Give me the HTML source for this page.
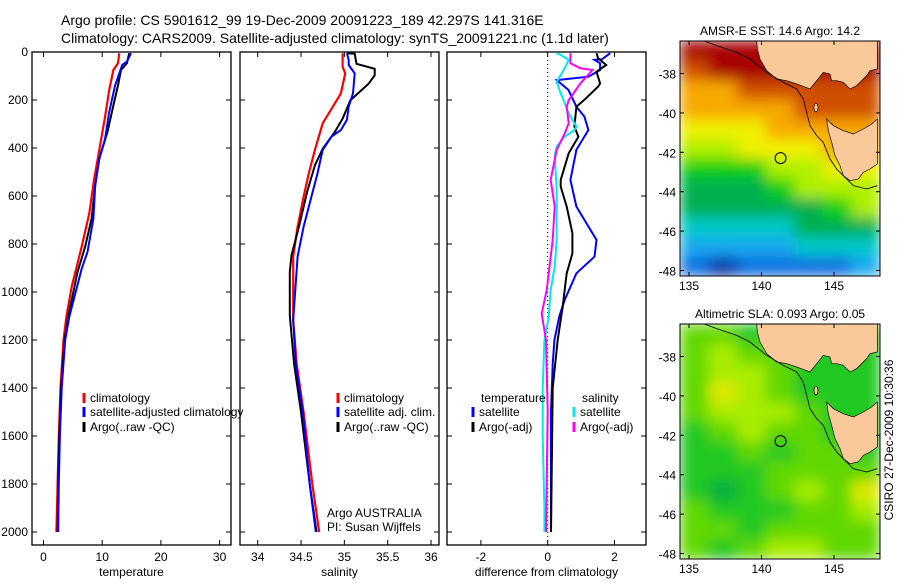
<!DOCTYPE html>
<html><head><meta charset="utf-8"><style>
body{margin:0;background:#fff;}
svg text{font-family:"Liberation Sans",sans-serif;font-size:12px;fill:#000;}
</style></head><body>
<svg id="fig" width="900" height="580" viewBox="0 0 900 580" xmlns="http://www.w3.org/2000/svg">
<defs>
<filter id="smooth" x="0" y="0" width="1" height="1"><feGaussianBlur stdDeviation="7" edgeMode="duplicate"/></filter>
<clipPath id="clip1"><rect x="680" y="41" width="200" height="235"/></clipPath>
<clipPath id="clip2"><rect x="680" y="324" width="200" height="235"/></clipPath>
</defs>
<rect width="900" height="580" fill="#fff"/>
<text x="61" y="25" style="font-size:14px">Argo profile: CS 5901612_99 19-Dec-2009 20091223_189 42.297S 141.316E</text>
<text x="61" y="43" style="font-size:14px">Climatology: CARS2009. Satellite-adjusted climatology: synTS_20091221.nc (1.1d later)</text>
<g id="panels"></g>
<g id="maps"></g>
</svg>
<script>
// ---------- profile data ----------
const tRedD=[5,47,75,158,269,408,533,672,811,978,1103,1200,1400,1600,1800,2000];
const tRedV=[12.9,12.7,11.9,11.2,10.5,9.5,8.6,7.8,6.5,4.8,3.9,3.4,2.9,2.6,2.4,2.2];
const tBluD=[5,40,54,139,250,361,444,556,694,833,903,1103,1200,1400,1600,1800,2000];
const tBluV=[14.9,14.2,13.4,12.2,11.2,10.5,9.5,8.8,8.5,7.5,6.5,4.4,3.7,3.1,2.8,2.6,2.5];
const tBlkD=[5,47,75,139,222,333,444,556,694,811,917,1103,1200,1400,1600,1800,2000];
const tBlkV=[14.6,14.2,13.2,12.7,11.9,10.9,9.5,8.8,8.2,7.1,5.8,4.2,3.6,3.0,2.7,2.5,2.4];

const sRedD=[5,61,89,172,214,297,408,506,603,728,853,1117,1300,1500,1800,2000];
const sRedV=[34.98,34.98,35.01,34.96,34.89,34.75,34.66,34.59,34.53,34.46,34.41,34.41,34.45,34.53,34.63,34.71];
const sBluD=[5,33,54,89,172,228,283,325,353,408,506,603,728,853,1117,1300,1500,1800,2000];
const sBluV=[35.03,35.05,35.05,35.12,35.10,35.05,35.03,34.96,34.85,34.75,34.69,34.62,34.53,34.46,34.41,34.44,34.52,34.60,34.67];
const sBlkD=[5,7,49,70,97,132,201,278,333,403,472,583,722,847,917,1097,1300,1500,1800,2000];
const sBlkV=[35.03,35.12,35.14,35.35,35.35,35.28,35.07,34.98,34.89,34.75,34.66,34.57,34.48,34.39,34.37,34.37,34.42,34.50,34.60,34.68];

const dTsatD=[5,30,33,47,75,103,117,158,228,269,325,408,533,644,783,853,922,1033,1100,1200,1300,1500,2000];
const dTsatV=[1.87,1.63,1.40,1.57,1.57,1.22,0.27,0.62,0.86,1.10,1.22,0.86,0.68,0.86,1.46,1.40,0.86,0.51,0.35,0.2,0.15,0.1,0.1];
const dTargD=[5,26,54,82,131,144,199,228,311,353,422,533,561,644,755,839,922,1061,1200,1400,2000];
const dTargV=[1.46,1.51,1.75,1.46,1.57,1.51,1.10,0.86,0.80,0.92,0.63,0.39,0.39,0.57,0.74,0.74,0.57,0.45,0.3,0.15,0.1];
const dSargD=[5,47,68,75,131,201,228,297,339,408,533,589,644,783,922,992,1090,1200,1500,2000];
const dSargV=[0.68,0.68,0.98,1.34,0.98,0.63,0.57,0.63,0.51,0.27,0.09,0.15,0.21,0.15,0.03,-0.03,-0.18,-0.05,0,-0.05];
const dSsatD=[5,12,33,68,124,172,214,256,311,325,353,394,436,575,783,894,992,1103,1200,1400,1600,1900,2000];
const dSsatV=[0.27,0.39,0.63,0.51,0.27,0.39,0.51,0.63,0.86,0.80,0.51,0.27,0.21,0.27,0.27,0.21,0.09,0.03,-0.1,-0.15,-0.15,-0.1,-0.1];

const depthTicks=[0,200,400,600,800,1000,1200,1400,1600,1800,2000];
const tTicks=[0,10,20,30];
const sTicks=[34,34.5,35,35.5,36];
const dTicks=[-2,0,2];

// ---------- map data ----------
const sstGrid=[
[10,10,10,10,10,10,10],[9,10,10,10,10,10,10],[8,8,9,9,9,9,9],[8,8,8,8,9,9,9],
[7,7,7,8,8,8,8],[6,6,7,7,7,8,8],[5,5,5,6,6,7,7],[4,4,4,5,6,6,6],
[4,4,4,4,4,5,6],[3,3,3,3,4,4,4],[2,2,2,2,3,3,3],[1,0,1,1,1,1,2]];
const slaGrid=[
[2,2,1,2,1,1,1],[2,3,2,2,1,1,1],[2,3,3,2,1,1,1],[2,4,3,2,1,1,1],
[2,3,3,3,2,1,1],[1,2,3,2,2,1,1],[1,1,2,1,2,2,1],[1,1,1,2,2,2,2],
[1,0,1,2,3,2,4],[2,1,1,1,2,2,3],[2,2,1,2,2,2,2],[2,1,2,3,3,2,2]];
const latTicks=[-38,-40,-42,-44,-46,-48];
const lonTicks=[135,140,145];
const argoLon=141.316, argoLat=-42.297;

const NS="http://www.w3.org/2000/svg";
function mk(tag,attrs,parent){const e=document.createElementNS(NS,tag);for(const k in attrs)e.setAttribute(k,attrs[k]);parent.appendChild(e);return e;}
const panels=document.getElementById('panels');
const yD=d=>52+d*0.24;

function panel(x0,x1,xs,xt,xlab,name,ylabels){
  const g=mk('g',{},panels);
  
  
  const fr=mk('rect',{x:x0,y:52,width:x1-x0,height:493,fill:'none',stroke:'#000','stroke-width':1.3},g);
  
  
  depthTicks.forEach(d=>{
    const y=yD(d);
    mk('line',{x1:x0,x2:x0+5,y1:y,y2:y,stroke:'#000'},g);
    mk('line',{x1:x1-5,x2:x1,y1:y,y2:y,stroke:'#000'},g);
    if(ylabels){const t=mk('text',{x:x0-4,y:y+4,'text-anchor':'end'},g);t.textContent=d;
      
      }
  });
  xt.forEach(v=>{
    const x=xs(v);
    mk('line',{x1:x,x2:x,y1:545,y2:540,stroke:'#000'},g);
    mk('line',{x1:x,x2:x,y1:52,y2:57,stroke:'#000'},g);
    const t=mk('text',{x:x,y:561,'text-anchor':'middle'},g);t.textContent=v;
    
    
  });
  const xl=mk('text',{x:(x0+x1)/2,y:576,'text-anchor':'middle'},g);xl.textContent=xlab;
  
  
  return g;
}
function line(g,xs,D,V,color,w,name){
  const p=mk('polyline',{points:D.map((d,i)=>xs(V[i]).toFixed(1)+','+yD(d).toFixed(1)).join(' '),fill:'none',stroke:color,'stroke-width':w},g);
  
  
}
function legend(g,x,y,color,label,name){
  if(color) mk('line',{x1:x,x2:x,y1:y-9,y2:y+1,stroke:color,'stroke-width':3},g);
  const t=mk('text',{x:x+6,y:y},g);t.textContent=label;
  
  
}
// Panel 1
const xsT=v=>43.5+v*5.87;
const g1=panel(32,231,xsT,tTicks,'temperature','temperature-panel',true);
line(g1,xsT,tRedD,tRedV,'#ff0000',2.2,'temp-climatology-line');
line(g1,xsT,tBlkD,tBlkV,'#000',2,'temp-argo-line');
line(g1,xsT,tBluD,tBluV,'#0000ff',2,'temp-satellite-line');
legend(g1,84,402,'#ff0000','climatology','legend-climatology');
legend(g1,84,416,'#0000ff','satellite-adjusted climatology','legend-satellite');
legend(g1,84,431,'#000','Argo(..raw -QC)','legend-argo');
// Panel 2
const xsS=v=>257.7+(v-34)*86.65;
const g2=panel(240,439,xsS,sTicks,'salinity','salinity-panel',false);
line(g2,xsS,sRedD,sRedV,'#ff0000',2.2,'sal-climatology-line');
line(g2,xsS,sBlkD,sBlkV,'#000',2,'sal-argo-line');
line(g2,xsS,sBluD,sBluV,'#0000ff',2,'sal-satellite-line');
legend(g2,338,402,'#ff0000','climatology','legend-climatology');
legend(g2,338,416,'#0000ff','satellite adj. clim.','legend-satellite');
legend(g2,338,431,'#000','Argo(..raw -QC)','legend-argo');
legend(g2,321,517,null,'Argo AUSTRALIA','argo-australia-note');
legend(g2,321,531,null,'PI: Susan Wijffels','pi-note');
// Panel 3
const xsD=v=>547.7+v*33.4;
const g3=panel(447,646,xsD,dTicks,'difference from climatology','difference-panel',false);
mk('line',{x1:xsD(0),x2:xsD(0),y1:52,y2:545,stroke:'#000','stroke-dasharray':'1,3'},g3);
line(g3,xsD,dTsatD,dTsatV,'#0000ff',2,'diff-temp-satellite-line');
line(g3,xsD,dTargD,dTargV,'#000',2,'diff-temp-argo-line');
line(g3,xsD,dSsatD,dSsatV,'#00e8f0',2,'diff-sal-satellite-line');
line(g3,xsD,dSargD,dSargV,'#ff00ff',2,'diff-sal-argo-line');
legend(g3,475,402,null,'temperature','legend-temperature-header');
legend(g3,473,416,'#0000ff','satellite','legend-temp-satellite');
legend(g3,473,431,'#000','Argo(-adj)','legend-temp-argo');
legend(g3,576,402,null,'salinity','legend-salinity-header');
legend(g3,574,416,'#00e8f0','satellite','legend-sal-satellite');
legend(g3,574,431,'#ff00ff','Argo(-adj)','legend-sal-argo');

// ---------- maps ----------
const sstCols=['#0838a8','#1070e0','#18a8f0','#00c8c8','#00b050','#10d010','#b0f000','#f0f000','#f8a800','#d05000','#a80000'];
const slaCols=['#00b040','#20c820','#60d800','#a8ec00','#e0e800'];
const maps=document.getElementById('maps');
const mainland="320,95 322,120 330,150 350,185 380,210 410,215 440,225 480,240 500,215 520,190 540,195 545,215 560,215 580,220 600,240 620,230 650,200 660,185 682,180 682,95";
const tas="530,330 550,350 580,365 610,375 640,360 665,345 682,330 682,465 660,480 640,490 625,510 600,515 580,500 570,470 555,440 545,400 535,365";
const contour="160,95 200,110 260,130 300,150 350,190 400,220 440,240 460,270 470,310 480,350 500,380 520,400 540,450 560,480 580,500 610,530 650,540 682,530";
function map(top,grid,cols,title,name,oy,clip){
  const g=mk('g',{},maps);
  
  
  const L=680,R=880,T=top,B=top+235;
  const lonX=lo=>689+(lo-135)*14.5;
  const latY=la=>(top+32.5)+(-38-la)*19.7;
  const cw=(R-L)/grid[0].length, ch=(B-T)/grid.length;
  const cg=mk('g',{'clip-path':`url(#${clip})`},g);
  const hg=mk('g',{filter:'url(#smooth)'},cg);
  grid.forEach((row,r)=>row.forEach((v,c)=>{
    const cell=mk('rect',{x:L+c*cw,y:T+r*ch,width:cw+0.5,height:ch+0.5,fill:cols[v]},hg);
    
    
  }));
  const land=mk('g',{transform:`translate(650,${oy}) scale(0.33333)`},cg);
  mk('polygon',{points:mainland,fill:'#f9c99a',stroke:'#000','stroke-width':2},land);
  mk('polygon',{points:tas,fill:'#f9c99a',stroke:'#000','stroke-width':2},land);
  mk('ellipse',{cx:498,cy:296,rx:6,ry:13,fill:'#f9c99a',stroke:'#000','stroke-width':2},land);
  mk('polyline',{points:contour,fill:'none',stroke:'#000','stroke-width':2.5},land);
  const ci=mk('circle',{cx:lonX(argoLon),cy:latY(argoLat),r:5.5,fill:'none',stroke:'#000'},g);
  
  
  mk('rect',{x:L,y:T,width:R-L,height:B-T,fill:'none',stroke:'#000'},g);
  latTicks.forEach(la=>{const y=latY(la);
    mk('line',{x1:L,x2:L+4,y1:y,y2:y,stroke:'#000'},g);mk('line',{x1:R-4,x2:R,y1:y,y2:y,stroke:'#000'},g);
    const t=mk('text',{x:L-4,y:y+5,'text-anchor':'end'},g);t.textContent=la;
    
    });
  lonTicks.forEach(lo=>{const x=lonX(lo);
    mk('line',{x1:x,x2:x,y1:B,y2:B-4,stroke:'#000'},g);mk('line',{x1:x,x2:x,y1:T,y2:T+4,stroke:'#000'},g);
    const t=mk('text',{x:x,y:B+14,'text-anchor':'middle'},g);t.textContent=lo;
    
    });
  const tt=mk('text',{x:(L+R)/2,y:T-6,'text-anchor':'middle'},g);tt.textContent=title;
  
  
}
map(41,sstGrid,sstCols,'AMSR-E SST: 14.6 Argo: 14.2','sst-map',9,'clip1');
map(324,slaGrid,slaCols,'Altimetric SLA: 0.093 Argo: 0.05','sla-map',292,'clip2');
const cs=mk('text',{x:0,y:0,transform:'translate(893,440) rotate(-90)','text-anchor':'middle'},maps);
cs.textContent='CSIRO 27-Dec-2009 10:30:36';


</script>
</body></html>
